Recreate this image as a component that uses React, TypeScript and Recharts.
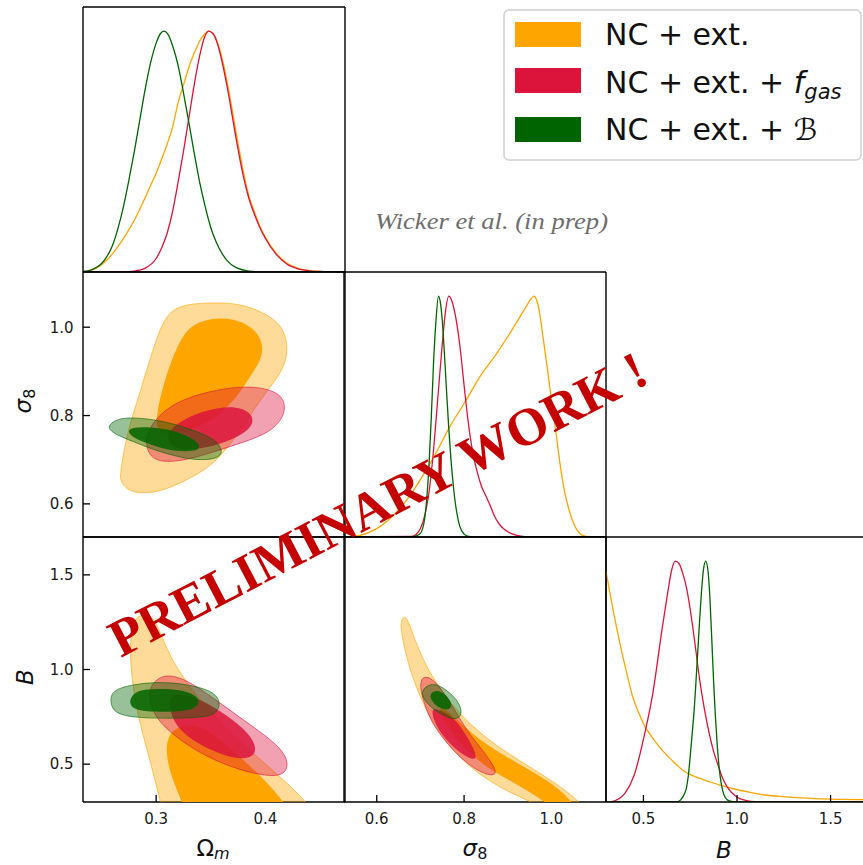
import React from "react";
import { ComposedChart, XAxis, YAxis, Line, Scatter } from "recharts";

type P = [number, number];

// axes
const omDomain: [number, number] = [0.233, 0.473];
const s8Domain: [number, number] = [0.525, 1.125];
const bDomain: [number, number] = [0.3, 1.7];
const pdfDomain: [number, number] = [0, 1.1];
const omTicks = [0.3, 0.4];
const s8Ticks = [0.6, 0.8, 1.0];
const bTicks = [0.5, 1.0, 1.5];

const ORANGE = "#ffa500";
const RED = "#dc143c";
const GREEN = "#006400";

const legendLabels = ["NC + ext.", "NC + ext. + ", "NC + ext. + "];

// 1D marginals (normalised to peak = 1)
const omOrange: P[] = [[0.233,0.001],[0.24,0.006],[0.25,0.03],[0.255,0.05],[0.26,0.075],[0.265,0.105],[0.273,0.16],[0.28,0.215],[0.288,0.29],[0.295,0.36],[0.3,0.41],[0.3076,0.5],[0.315,0.6],[0.32,0.7],[0.326,0.79],[0.33,0.85],[0.336,0.92],[0.34,0.96],[0.344,0.985],[0.348,1.0],[0.352,0.99],[0.356,0.955],[0.36,0.895],[0.365,0.79],[0.37,0.665],[0.375,0.535],[0.38,0.415],[0.385,0.315],[0.39,0.25],[0.395,0.19],[0.4,0.145],[0.41,0.078],[0.42,0.036],[0.43,0.015],[0.44,0.006],[0.45,0.002],[0.473,0]];
const omRed: P[] = [[0.233,0],[0.27,0.001],[0.28,0.004],[0.29,0.016],[0.3,0.056],[0.305,0.1],[0.31,0.16],[0.315,0.25],[0.32,0.37],[0.325,0.5],[0.33,0.64],[0.335,0.78],[0.34,0.9],[0.344,0.97],[0.348,1.0],[0.352,0.99],[0.356,0.95],[0.36,0.88],[0.365,0.77],[0.37,0.64],[0.375,0.51],[0.38,0.395],[0.385,0.305],[0.39,0.24],[0.395,0.185],[0.4,0.14],[0.41,0.073],[0.42,0.032],[0.43,0.013],[0.44,0.005],[0.45,0.002],[0.473,0]];
const omGreen: P[] = [[0.233,0.002],[0.24,0.008],[0.245,0.018],[0.25,0.035],[0.255,0.065],[0.26,0.11],[0.265,0.18],[0.27,0.27],[0.275,0.38],[0.28,0.5],[0.285,0.63],[0.29,0.76],[0.295,0.87],[0.3,0.95],[0.304,0.99],[0.307,1.0],[0.311,0.985],[0.315,0.94],[0.32,0.86],[0.325,0.745],[0.33,0.62],[0.335,0.49],[0.34,0.37],[0.345,0.27],[0.35,0.185],[0.355,0.125],[0.36,0.08],[0.365,0.047],[0.37,0.027],[0.375,0.015],[0.385,0.004],[0.4,0],[0.473,0]];

const s8Orange: P[] = [[0.525,0.001],[0.56,0.007],[0.6,0.035],[0.63,0.076],[0.668,0.152],[0.706,0.256],[0.737,0.353],[0.767,0.457],[0.8,0.554],[0.836,0.665],[0.874,0.76],[0.912,0.866],[0.942,0.956],[0.952,0.985],[0.96,1.0],[0.966,0.985],[0.972,0.94],[0.98,0.84],[0.99,0.71],[1.0,0.57],[1.01,0.44],[1.02,0.3],[1.03,0.19],[1.04,0.115],[1.05,0.06],[1.06,0.025],[1.07,0.008],[1.09,0.001],[1.125,0]];
const s8Red: P[] = [[0.525,0],[0.68,0.002],[0.69,0.01],[0.7,0.035],[0.71,0.09],[0.72,0.19],[0.73,0.36],[0.74,0.58],[0.75,0.8],[0.757,0.93],[0.765,1.0],[0.772,0.98],[0.78,0.92],[0.79,0.8],[0.8,0.63],[0.81,0.47],[0.82,0.35],[0.83,0.27],[0.84,0.21],[0.85,0.17],[0.86,0.13],[0.87,0.085],[0.88,0.055],[0.89,0.035],[0.9,0.022],[0.91,0.013],[0.93,0.004],[0.96,0],[1.125,0]];
const s8Green: P[] = [[0.525,0],[0.68,0.001],[0.69,0.004],[0.7,0.015],[0.71,0.08],[0.715,0.17],[0.72,0.31],[0.725,0.5],[0.73,0.72],[0.735,0.88],[0.7414,1.0],[0.746,0.97],[0.75,0.9],[0.755,0.76],[0.76,0.6],[0.765,0.45],[0.77,0.32],[0.775,0.22],[0.78,0.14],[0.785,0.085],[0.79,0.045],[0.8,0.012],[0.81,0.003],[0.83,0],[1.125,0]];

const bOrange: P[] = [[0.296,0.97],[0.3,0.955],[0.335,0.809],[0.371,0.671],[0.407,0.547],[0.443,0.436],[0.475,0.37],[0.505,0.318],[0.545,0.27],[0.586,0.228],[0.65,0.175],[0.712,0.131],[0.78,0.104],[0.855,0.083],[0.92,0.068],[0.98,0.055],[1.07,0.04],[1.16,0.028],[1.25,0.022],[1.34,0.017],[1.5,0.012],[1.7,0.01]];
const bRed: P[] = [[0.3,0],[0.33,0.002],[0.35,0.006],[0.4,0.035],[0.45,0.11],[0.5,0.26],[0.55,0.45],[0.6,0.72],[0.63,0.87],[0.65,0.96],[0.67,1.0],[0.69,0.99],[0.71,0.95],[0.73,0.89],[0.75,0.8],[0.775,0.66],[0.8,0.51],[0.825,0.39],[0.85,0.29],[0.875,0.21],[0.9,0.15],[0.925,0.095],[0.95,0.06],[1.0,0.02],[1.05,0.006],[1.1,0.001],[1.2,0],[1.7,0]];
const bGreen: P[] = [[0.3,0],[0.68,0.001],[0.7,0.01],[0.72,0.035],[0.73,0.06],[0.74,0.11],[0.75,0.19],[0.76,0.28],[0.77,0.37],[0.78,0.49],[0.79,0.62],[0.8,0.75],[0.81,0.87],[0.82,0.96],[0.833,1.0],[0.845,0.96],[0.855,0.85],[0.865,0.68],[0.875,0.5],[0.885,0.35],[0.895,0.23],[0.905,0.14],[0.915,0.08],[0.93,0.03],[0.95,0.008],[0.98,0.001],[1.0,0],[1.7,0]];

// 2D contours, sigma8 vs Omega_m  (x = Om, y = s8)
const s8OmOrangeOuter: P[] = [[0.267,0.662],[0.2685,0.692],[0.273,0.752],[0.279,0.805],[0.285,0.85],[0.291,0.902],[0.298,0.955],[0.304,1.0],[0.313,1.038],[0.328,1.053],[0.356,1.056],[0.377,1.053],[0.398,1.034],[0.414,1.008],[0.42,0.97],[0.42,0.932],[0.414,0.895],[0.402,0.857],[0.389,0.812],[0.38,0.774],[0.368,0.737],[0.356,0.699],[0.34,0.669],[0.322,0.647],[0.304,0.628],[0.285,0.623],[0.273,0.632],[0.268,0.65]];
const s8OmOrangeInner: P[] = [[0.3,0.774],[0.301,0.812],[0.307,0.872],[0.313,0.917],[0.321,0.966],[0.331,1.004],[0.35,1.021],[0.371,1.02],[0.389,1.0],[0.398,0.966],[0.397,0.929],[0.386,0.887],[0.374,0.842],[0.359,0.805],[0.34,0.774],[0.319,0.759],[0.304,0.759]];
const s8OmRedOuter: P[] = [[0.291,0.759],[0.301,0.797],[0.316,0.827],[0.34,0.85],[0.371,0.865],[0.395,0.865],[0.414,0.85],[0.419,0.82],[0.415,0.789],[0.402,0.759],[0.377,0.737],[0.353,0.718],[0.328,0.699],[0.304,0.693],[0.293,0.711],[0.291,0.737]];
const s8OmRedInner: P[] = [[0.313,0.767],[0.319,0.782],[0.337,0.805],[0.356,0.818],[0.374,0.82],[0.386,0.808],[0.39,0.786],[0.383,0.763],[0.368,0.744],[0.35,0.729],[0.331,0.722],[0.316,0.726],[0.31,0.744]];
const s8OmGreenOuter: P[] = [[0.258,0.782],[0.267,0.795],[0.285,0.795],[0.31,0.786],[0.334,0.767],[0.353,0.748],[0.36,0.726],[0.36,0.711],[0.353,0.701],[0.337,0.699],[0.319,0.707],[0.298,0.722],[0.279,0.741],[0.262,0.758],[0.256,0.771]];
const s8OmGreenInner: P[] = [[0.275,0.767],[0.279,0.773],[0.294,0.774],[0.316,0.767],[0.334,0.748],[0.34,0.733],[0.339,0.722],[0.328,0.718],[0.31,0.722],[0.291,0.737],[0.278,0.752],[0.275,0.761]];

// 2D contours, B vs Omega_m
const bOmOrangeOuter: P[] = [[0.309,0.2],[0.305,0.273],[0.2945,0.52],[0.285,0.714],[0.279,0.891],[0.276,1.067],[0.277,1.208],[0.282,1.287],[0.2945,1.296],[0.302,1.226],[0.31,1.102],[0.322,0.979],[0.34,0.838],[0.365,0.679],[0.389,0.556],[0.414,0.432],[0.438,0.3],[0.45,0.2]];
const bOmOrangeInner: P[] = [[0.329,0.2],[0.326,0.273],[0.316,0.397],[0.309,0.538],[0.31,0.644],[0.319,0.697],[0.334,0.714],[0.353,0.661],[0.377,0.538],[0.4,0.414],[0.417,0.3],[0.427,0.2]];
const bOmRedOuter: P[] = [[0.293,0.908],[0.304,0.966],[0.316,0.97],[0.334,0.926],[0.359,0.82],[0.389,0.697],[0.414,0.591],[0.422,0.503],[0.417,0.441],[0.402,0.436],[0.377,0.467],[0.346,0.538],[0.322,0.626],[0.304,0.714],[0.2945,0.802]];
const bOmRedInner: P[] = [[0.312,0.855],[0.322,0.873],[0.34,0.847],[0.365,0.758],[0.386,0.661],[0.393,0.573],[0.386,0.529],[0.371,0.529],[0.35,0.573],[0.328,0.644],[0.316,0.723],[0.312,0.802]];
const bOmGreenOuter: P[] = [[0.258,0.855],[0.262,0.894],[0.279,0.922],[0.304,0.935],[0.328,0.922],[0.35,0.891],[0.359,0.838],[0.357,0.776],[0.346,0.746],[0.31,0.741],[0.279,0.746],[0.264,0.767],[0.259,0.802]];
const bOmGreenInner: P[] = [[0.276,0.847],[0.282,0.891],[0.301,0.899],[0.322,0.894],[0.337,0.864],[0.34,0.829],[0.336,0.794],[0.322,0.776],[0.298,0.776],[0.282,0.785],[0.276,0.811]];

// 2D contours, B vs sigma8
const bS8OrangeOuter: P[] = [[0.662,1.287],[0.672,1.261],[0.6875,1.155],[0.71,1.032],[0.737,0.926],[0.775,0.802],[0.828,0.679],[0.889,0.573],[0.957,0.476],[1.018,0.388],[1.064,0.3],[1.1,0.22],[1.02,0.2],[0.98,0.273],[0.927,0.326],[0.866,0.397],[0.813,0.485],[0.767,0.591],[0.729,0.714],[0.699,0.855],[0.676,0.996],[0.661,1.138],[0.653,1.243]];
const bS8OrangeInner: P[] = [[0.7445,0.82],[0.775,0.75],[0.836,0.626],[0.897,0.538],[0.965,0.45],[1.018,0.37],[1.047,0.3],[1.075,0.22],[1.02,0.22],[1.003,0.273],[0.957,0.344],[0.897,0.423],[0.851,0.485],[0.805,0.573],[0.767,0.679],[0.7445,0.767]];
const bS8RedOuter: P[] = [[0.703,0.961],[0.722,0.961],[0.7445,0.908],[0.775,0.802],[0.805,0.679],[0.843,0.573],[0.87,0.485],[0.874,0.441],[0.851,0.441],[0.805,0.503],[0.76,0.608],[0.722,0.732],[0.7065,0.838],[0.699,0.908]];
const bS8RedInner: P[] = [[0.7445,0.785],[0.775,0.75],[0.798,0.679],[0.8205,0.591],[0.83,0.529],[0.817,0.524],[0.7825,0.573],[0.752,0.644],[0.729,0.732],[0.7255,0.802]];
const bS8GreenOuter: P[] = [[0.703,0.891],[0.722,0.926],[0.7445,0.917],[0.775,0.864],[0.794,0.802],[0.794,0.75],[0.775,0.732],[0.7445,0.767],[0.718,0.811],[0.705,0.855]];
const bS8GreenInner: P[] = [[0.722,0.873],[0.737,0.894],[0.756,0.873],[0.771,0.829],[0.771,0.794],[0.756,0.785],[0.733,0.811],[0.723,0.847]];

const toPts = (a: P[]) => a.map(([x, y]) => ({ x, y }));

const PAD = 60;
const W = 262;
const H = 265;
const COLS = [83, 344, 606];
const ROWS = [7, 272, 537];
const FONT = "'DejaVu Sans', sans-serif";
const tickStyle = { fontSize: 15, fill: "#1a1a1a", fontFamily: FONT };
const fmt = (v: number) => v.toFixed(1);
const axisLine = { stroke: "#000", strokeWidth: 1.4 };
const tickLine = { stroke: "#000", strokeWidth: 1.3 };

type PanelProps = {
  col: number;
  row: number;
  xDomain: [number, number];
  yDomain: [number, number];
  xTicks: number[];
  yTicks?: number[];
  xLabels?: boolean;
  yLabels?: boolean;
  oneD?: boolean;
  children: React.ReactNode;
};

function Panel({ col, row, xDomain, yDomain, xTicks, yTicks = [], xLabels, yLabels, oneD, children }: PanelProps) {
  return (
    <div style={{ position: "absolute", left: COLS[col] - PAD, top: ROWS[row] - PAD }}>
      <ComposedChart width={W + 2 * PAD} height={H + 2 * PAD} margin={{ top: 0, right: 0, bottom: 0, left: 0 }}>
        <XAxis xAxisId="b" orientation="bottom" type="number" dataKey="x" domain={xDomain} allowDataOverflow
          ticks={xTicks} height={PAD} tickSize={-7} tickMargin={18} tickFormatter={fmt}
          tick={xLabels ? tickStyle : false} stroke="#000" axisLine={axisLine} tickLine={tickLine} />
        <XAxis xAxisId="t" orientation="top" type="number" dataKey="x" domain={xDomain} allowDataOverflow
          ticks={xTicks} height={PAD} tickSize={-7} tick={false} stroke="#000" axisLine={axisLine}
          tickLine={oneD ? false : tickLine} />
        <YAxis yAxisId="l" orientation="left" type="number" dataKey="y" domain={yDomain} allowDataOverflow
          ticks={oneD ? undefined : yTicks} width={PAD} tickSize={-7} tickMargin={16.5} tickFormatter={fmt}
          tick={yLabels ? tickStyle : false} stroke="#000" axisLine={axisLine} tickLine={oneD ? false : tickLine} />
        <YAxis yAxisId="r" orientation="right" type="number" dataKey="y" domain={yDomain} allowDataOverflow
          ticks={oneD ? undefined : yTicks} width={PAD} tickSize={-7} tick={false} stroke="#000"
          axisLine={axisLine} tickLine={oneD ? false : tickLine} />
        {children}
      </ComposedChart>
    </div>
  );
}

function pdf(key: string, data: P[], color: string, alt: boolean) {
  return (
    <Line key={key} data={toPts(data)} dataKey="y" xAxisId={alt ? "t" : "b"} yAxisId={alt ? "r" : "l"}
      type="monotone" stroke={color} strokeWidth={1.3} dot={false} activeDot={false} isAnimationActive={false} />
  );
}

function contour(key: string, data: P[], color: string, inner: boolean) {
  const op = inner ? (color === ORANGE ? 1 : 0.85) : 0.4;
  return (
    <Scatter key={key} data={toPts(data)} xAxisId={inner ? "t" : "b"} yAxisId={inner ? "r" : "l"}
      fill={color}
      line={{ fill: color, fillOpacity: op, stroke: inner ? "none" : color, strokeOpacity: 0.6, strokeWidth: 1 }}
      lineJointType="basisClosed" shape={() => <g />} isAnimationActive={false} />
  );
}

function contours(set: [P[], P[], P[], P[], P[], P[]]) {
  const colors = [ORANGE, ORANGE, RED, RED, GREEN, GREEN];
  return set.map((d, i) => contour(`c${i}`, d, colors[i], i % 2 === 1));
}

export default function App() {
  return (
    <div style={{ position: "fixed", left: 0, top: 0, width: 863, height: 865, overflow: "hidden", background: "#fff" }}>
      <Panel col={0} row={0} xDomain={omDomain} yDomain={pdfDomain} xTicks={omTicks} oneD>
        {pdf("o", omOrange, ORANGE, false)}
        {pdf("r", omRed, RED, true)}
        {pdf("g", omGreen, GREEN, false)}
      </Panel>
      <Panel col={0} row={1} xDomain={omDomain} yDomain={s8Domain} xTicks={omTicks} yTicks={s8Ticks} yLabels>
        {contours([s8OmOrangeOuter, s8OmOrangeInner, s8OmRedOuter, s8OmRedInner, s8OmGreenOuter, s8OmGreenInner])}
      </Panel>
      <Panel col={1} row={1} xDomain={s8Domain} yDomain={pdfDomain} xTicks={s8Ticks} oneD>
        {pdf("o", s8Orange, ORANGE, false)}
        {pdf("r", s8Red, RED, true)}
        {pdf("g", s8Green, GREEN, false)}
      </Panel>
      <Panel col={0} row={2} xDomain={omDomain} yDomain={bDomain} xTicks={omTicks} yTicks={bTicks} xLabels yLabels>
        {contours([bOmOrangeOuter, bOmOrangeInner, bOmRedOuter, bOmRedInner, bOmGreenOuter, bOmGreenInner])}
      </Panel>
      <Panel col={1} row={2} xDomain={s8Domain} yDomain={bDomain} xTicks={s8Ticks} yTicks={bTicks} xLabels>
        {contours([bS8OrangeOuter, bS8OrangeInner, bS8RedOuter, bS8RedInner, bS8GreenOuter, bS8GreenInner])}
      </Panel>
      <Panel col={2} row={2} xDomain={bDomain} yDomain={pdfDomain} xTicks={bTicks} xLabels oneD>
        {pdf("o", bOrange, ORANGE, false)}
        {pdf("r", bRed, RED, true)}
        {pdf("g", bGreen, GREEN, false)}
      </Panel>

      <svg width={863} height={865} style={{ position: "absolute", left: 0, top: 0, pointerEvents: "none" }}>
        {/* axis labels */}
        <g fontFamily={FONT} fill="#111" fontSize={23}>
          <text x={213} y={856} textAnchor="middle">
            Ω<tspan fontStyle="italic" fontSize={16} dy={3}>m</tspan>
          </text>
          <text x={475} y={856} textAnchor="middle">
            <tspan fontStyle="italic">σ</tspan><tspan fontSize={16} dy={3}>8</tspan>
          </text>
          <text x={724} y={858} textAnchor="middle" fontStyle="italic">B</text>
          <text transform="translate(31,401) rotate(-90)" textAnchor="middle">
            <tspan fontStyle="italic">σ</tspan><tspan fontSize={16} dy={4}>8</tspan>
          </text>
          <text transform="translate(33,677) rotate(-90)" textAnchor="middle" fontStyle="italic">B</text>
        </g>

        {/* legend */}
        <rect x={504} y={10} width={357} height={150} rx={5} fill="#fff" stroke="#cfcfcf" strokeWidth={1.5} />
        <rect x={515} y={22} width={66} height={25} fill={ORANGE} />
        <rect x={515} y={68} width={66} height={25} fill={RED} />
        <rect x={515} y={117} width={66} height={25} fill={GREEN} />
        <g fontFamily={FONT} fontSize={30} fill="#111">
          <text x={605} y={45}>{legendLabels[0]}</text>
          <text x={605} y={93}>
            {legendLabels[1]}
            <tspan fontStyle="italic">f</tspan>
            <tspan fontStyle="italic" fontSize={21} dy={6}>gas</tspan>
          </text>
          <text x={605} y={140}>
            {legendLabels[2]}
            <tspan>ℬ</tspan>
          </text>
        </g>

        <text x={375} y={229} fontFamily="'Liberation Serif', serif" fontStyle="italic" fontSize={23}
          fill="#6e6e6e" textLength={233} lengthAdjust="spacingAndGlyphs">
          Wicker et al. (in prep)
        </text>

        <text transform="translate(386,520) rotate(-27.5)" textAnchor="middle"
          fontFamily="'Liberation Serif', serif" fontWeight="bold" fontSize={53} fill="#c40000"
          textLength={598} lengthAdjust="spacingAndGlyphs">
          PRELIMINARY WORK !
        </text>
      </svg>
    </div>
  );
}
